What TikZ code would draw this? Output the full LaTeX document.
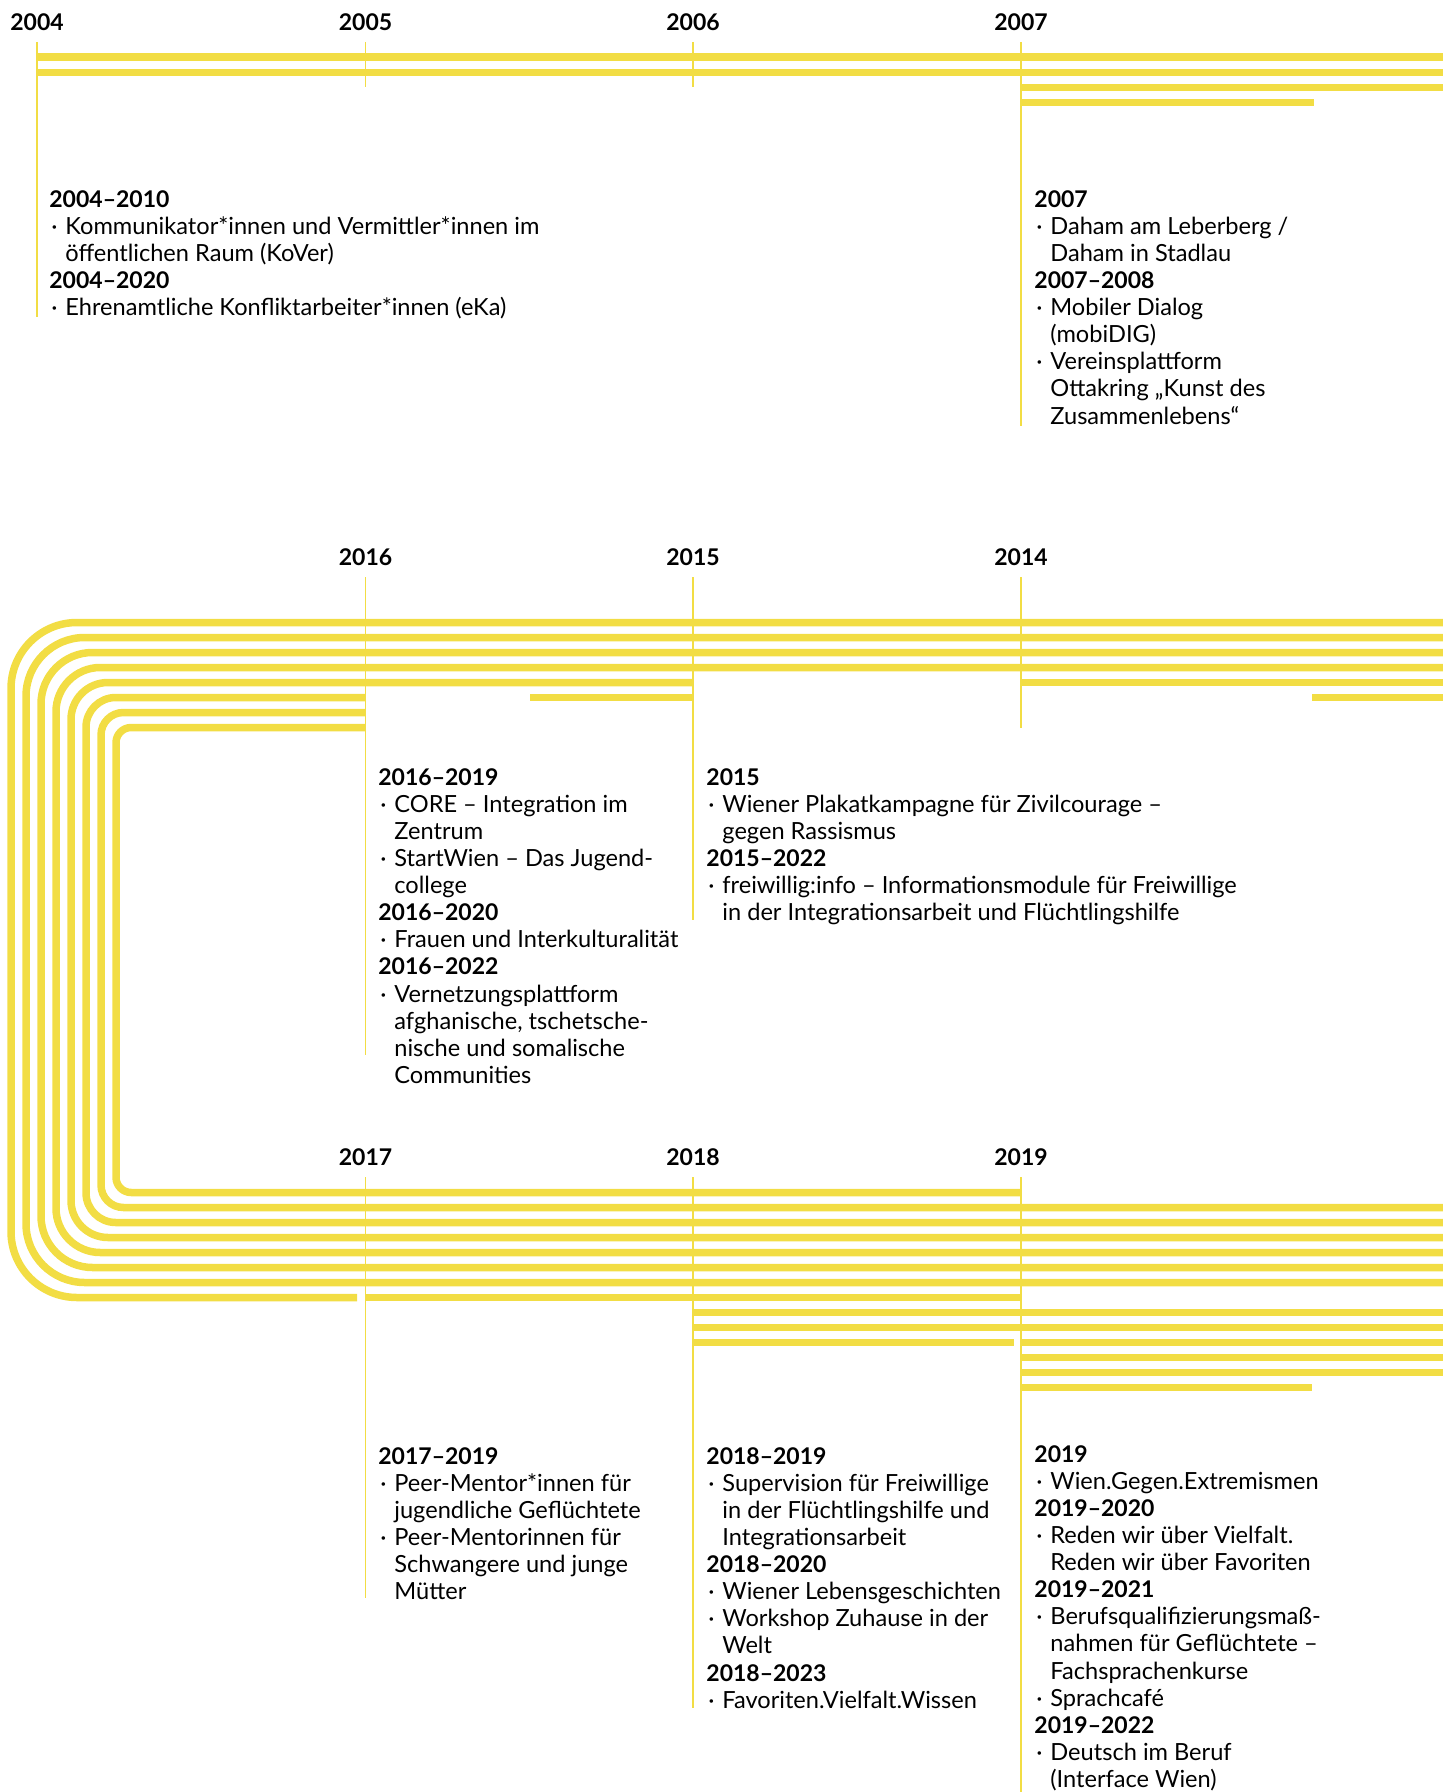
\documentclass[tikz,border=0pt]{standalone}
\usepackage{fontspec}
\setmainfont{Lato}
\definecolor{yel}{RGB}{242,221,68}
\newcommand{\yr}[1]{{\fontsize{11.5}{13.55}\selectfont\bfseries #1}}
\newcommand{\bul}{\makebox[8pt][l]{\hspace{1pt}·}}
\newcommand{\ind}{\hspace*{8pt}}
\tikzset{
  bar/.style={draw=yel,line width=3.75pt},
  tickline/.style={draw=yel,line width=0.7pt},
  yearlbl/.style={font=\fontsize{11.5}{13.55}\selectfont\bfseries,inner sep=0pt},
  blk/.style={anchor=north west,inner sep=0pt,align=left,font=\fontsize{11.8}{13.55}\selectfont}
}
\begin{document}
\begin{tikzpicture}[x=0.5pt,y=-0.5pt]
  \useasboundingbox (0,0) rectangle (1443,1792);
  \foreach \x/\ya/\yb in {37/42/317, 365.5/42/87, 693/42/87, 1021/42/426,
    365.5/577/1055, 693/577/920, 1021/577/728,
    365.5/1177/1598, 693/1177/1708, 1021/1177/1792}
    \draw[tickline] (\x,\ya) -- (\x,\yb);
  \foreach \i/\xa/\xb [evaluate=\i as \yt using 622.5+15*(\i-1),
    evaluate=\i as \xv using 11+15*(\i-1),
    evaluate=\i as \yb using 1297.5-15*(\i-1),
    evaluate=\i as \rad using 33-3.625*(\i-1)] in {
      1/1443/357, 2/1443/1443, 3/1443/1443, 4/1443/1443,
      5/693/1443, 6/365.5/1443, 7/365.5/1443, 8/365.5/1021
    }
    \draw[bar,rounded corners=\rad pt] (\xa,\yt) -| (\xv,\yb) -- (\xb,\yb);
  \foreach \y/\xa/\xb in {
      57/37/1443, 72.5/37/1443, 87.5/1021/1443, 102.5/1021/1314,
      682.5/1021/1443, 697.5/530/693, 697.5/1312/1443,
      1297.5/366/1021, 1312.5/693/1443, 1327.5/693/1443, 1342.5/693/1014,
      1342.5/1021/1443, 1357.5/1021/1443, 1372.5/1021/1443, 1387.5/1021/1312
    }
    \draw[bar] (\xa,\y) -- (\xb,\y);
  \node[yearlbl] (y2004) at (37,22) {2004};
  \node[yearlbl] (y2005) at (365.5,22) {2005};
  \node[yearlbl] (y2006) at (693,22) {2006};
  \node[yearlbl] (y2007) at (1021,22) {2007};
  \node[yearlbl] (y2016) at (365.5,557) {2016};
  \node[yearlbl] (y2015) at (693,557) {2015};
  \node[yearlbl] (y2014) at (1021,557) {2014};
  \node[yearlbl] (y2017) at (365.5,1157) {2017};
  \node[yearlbl] (y2018) at (693,1157) {2018};
  \node[yearlbl] (y2019) at (1021,1157) {2019};
  \node[blk] (b2004) at (49,190) {\yr{2004–2010}\\
    \bul Kommunikator*innen und Vermittler*innen im\\
    \ind öffentlichen Raum (KoVer)\\
    \yr{2004–2020}\\
    \bul Ehrenamtliche Konfliktarbeiter*innen (eKa)};
  \node[blk] (b2007) at (1034,190) {\yr{2007}\\
    \bul Daham am Leberberg /\\
    \ind Daham in Stadlau\\
    \yr{2007–2008}\\
    \bul Mobiler Dialog\\
    \ind (mobiDIG)\\
    \bul Vereinsplattform\\
    \ind Ottakring „Kunst des\\
    \ind Zusammenlebens“};
  \node[blk] (b2016) at (378,768) {\yr{2016–2019}\\
    \bul CORE – Integration im\\
    \ind Zentrum\\
    \bul StartWien – Das Jugend-\\
    \ind college\\
    \yr{2016–2020}\\
    \bul Frauen und Interkulturalität\\
    \yr{2016–2022}\\
    \bul Vernetzungsplattform\\
    \ind afghanische, tschetsche-\\
    \ind nische und somalische\\
    \ind Communities};
  \node[blk] (b2015) at (706,768) {\yr{2015}\\
    \bul Wiener Plakatkampagne für Zivilcourage –\\
    \ind gegen Rassismus\\
    \yr{2015–2022}\\
    \bul freiwillig:info – Informationsmodule für Freiwillige\\
    \ind in der Integrationsarbeit und Flüchtlingshilfe};
  \node[blk] (b2017) at (378,1447) {\yr{2017–2019}\\
    \bul Peer-Mentor*innen für\\
    \ind jugendliche Geflüchtete\\
    \bul Peer-Mentorinnen für\\
    \ind Schwangere und junge\\
    \ind Mütter};
  \node[blk] (b2018) at (706,1447) {\yr{2018–2019}\\
    \bul Supervision für Freiwillige\\
    \ind in der Flüchtlingshilfe und\\
    \ind Integrationsarbeit\\
    \yr{2018–2020}\\
    \bul Wiener Lebensgeschichten\\
    \bul Workshop Zuhause in der\\
    \ind Welt\\
    \yr{2018–2023}\\
    \bul Favoriten.Vielfalt.Wissen};
  \node[blk] (b2019) at (1034,1445) {\yr{2019}\\
    \bul Wien.Gegen.Extremismen\\
    \yr{2019–2020}\\
    \bul Reden wir über Vielfalt.\\
    \ind Reden wir über Favoriten\\
    \yr{2019–2021}\\
    \bul Berufsqualifizierungsmaß-\\
    \ind nahmen für Geflüchtete –\\
    \ind Fachsprachenkurse\\
    \bul Sprachcafé\\
    \yr{2019–2022}\\
    \bul Deutsch im Beruf\\
    \ind (Interface Wien)};
\end{tikzpicture}
\end{document}
